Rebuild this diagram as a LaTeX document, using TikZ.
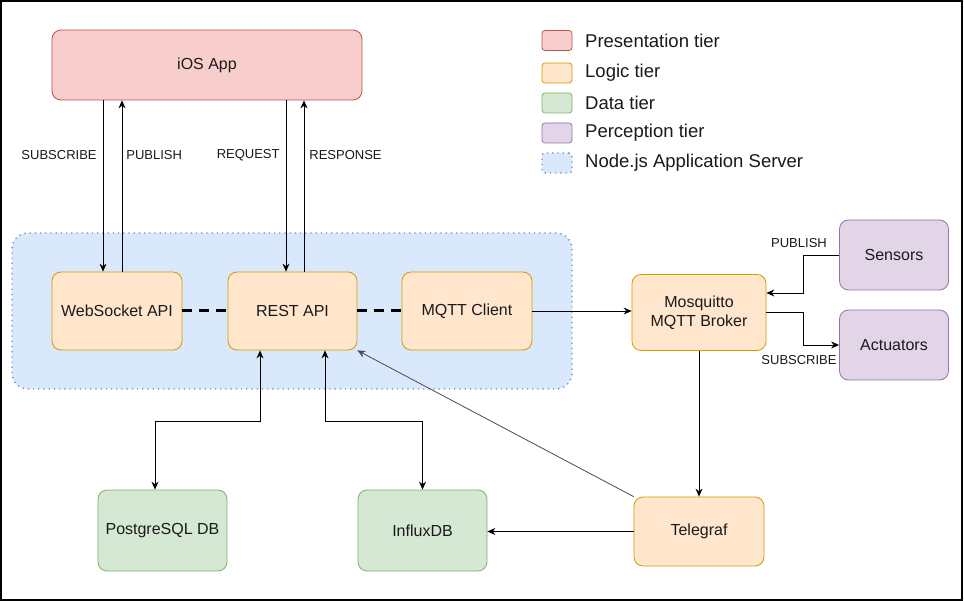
\documentclass[tikz,border=0pt]{standalone}
\usepackage{fontspec}
\setmainfont{Liberation Sans}
\usetikzlibrary{arrows.meta}
\definecolor{txt}{HTML}{1A1A1A}
\definecolor{presfill}{HTML}{F8CECC}
\definecolor{presline}{HTML}{B85450}
\definecolor{logfill}{HTML}{FFE6CC}
\definecolor{logline}{HTML}{D79B00}
\definecolor{datfill}{HTML}{D5E8D4}
\definecolor{datline}{HTML}{82B366}
\definecolor{perfill}{HTML}{E1D5E7}
\definecolor{perline}{HTML}{9673A6}
\definecolor{srvfill}{HTML}{DAE8FC}
\definecolor{srvline}{HTML}{6C8EBF}
\tikzstyle{tierbox}=[rectangle,rounded corners=9pt,line width=0.8pt,
                     align=center,inner sep=0pt,text=txt,
                     font=\fontsize{16}{19}\selectfont]
\tikzstyle{presbox}=[tierbox,draw=presline,fill=presfill]
\tikzstyle{logbox}=[tierbox,draw=logline,fill=logfill,
                    minimum width=130pt,minimum height=78pt]
\tikzstyle{datbox}=[tierbox,draw=datline,fill=datfill,
                    minimum width=129pt,minimum height=81pt]
\tikzstyle{perbox}=[tierbox,draw=perline,fill=perfill,
                    minimum width=109pt,minimum height=70pt]
\tikzstyle{srvbox}=[rectangle,rounded corners=16pt,draw=srvline,fill=srvfill,
                    line width=1.4pt,dash pattern=on 1.2pt off 4pt]
\tikzstyle{legbox}=[rectangle,rounded corners=3pt,line width=0.8pt,
                    minimum width=30pt,minimum height=20pt,inner sep=0pt]
\tikzstyle{legtext}=[anchor=west,inner sep=0pt,text=txt,
                     font=\fontsize{18.5}{22}\selectfont]
\tikzstyle{lbl}=[inner sep=0pt,text=txt,font=\fontsize{13}{15}\selectfont]
\tikzstyle{arr}=[-{Stealth[length=8pt,width=7pt]},line width=0.8pt]
\tikzstyle{biarr}=[{Stealth[length=8pt,width=7pt]}-{Stealth[length=8pt,width=7pt]},
                   line width=0.8pt]
\tikzstyle{dline}=[line width=3pt,dash pattern=on 10pt off 7pt]

\begin{document}
\begin{tikzpicture}[x=1pt,y=-1pt]
    \useasboundingbox (0,0) rectangle (964,601);
    \fill[white] (0,0) rectangle (964,601);
    \draw[line width=2pt] (1,1) rectangle (962,599.5);

    \node (server) at (292,311) [srvbox,minimum width=560pt,minimum height=156pt]{};

    \node (ios) at (207,65) [presbox,minimum width=310pt,minimum height=70pt]{iOS App};
    \node (ws) at (117,311) [logbox]{WebSocket API};
    \node (rest) at (292.5,311) [logbox,minimum width=129pt]{REST API};
    \node (mqttc) at (467,311) [logbox]{MQTT Client};
    \node (broker) at (699,312.5) [logbox,minimum width=134pt,minimum height=76pt]{Mosquitto\\MQTT Broker};
    \node (telegraf) at (699,531.5) [logbox,minimum height=69pt]{Telegraf};
    \node (pg) at (162.5,530.5) [datbox]{PostgreSQL DB};
    \node (influx) at (422.5,530.5) [datbox]{InfluxDB};
    \node (sensors) at (894,255) [perbox]{Sensors};
    \node (actuators) at (894,345) [perbox]{Actuators};

    \node (kpres) at (557,40.5) [legbox,draw=presline,fill=presfill]{};
    \node (klog) at (557,73) [legbox,draw=logline,fill=logfill]{};
    \node (kdat) at (557,103) [legbox,draw=datline,fill=datfill]{};
    \node (kper) at (557,133) [legbox,draw=perline,fill=perfill]{};
    \node (ksrv) at (557,163) [legbox,draw=srvline,fill=srvfill,
                               line width=1.4pt,dash pattern=on 1.2pt off 4pt]{};
    \node (tpres) at (585,40.5) [legtext]{Presentation tier};
    \node (tlog) at (585,73) [legtext]{Logic tier};
    \node (tdat) at (585,103) [legtext]{Data tier};
    \node (tper) at (585,133) [legtext]{Perception tier};
    \node (tsrv) at (585,163) [legtext]{Node.js Application Server};

    \draw[arr] ([xshift=-104pt]ios.south) -- node[lbl,pos=.32,left=6pt] (lsubws) {SUBSCRIBE} ([xshift=-14pt]ws.north);
    \draw[arr] ([xshift=5pt]ws.north) -- node[lbl,pos=.68,right=4pt] (lpubws) {PUBLISH} ([xshift=-85pt]ios.south);
    \draw[arr] ([xshift=79pt]ios.south) -- node[lbl,pos=.32,left=6pt] (lreq) {REQUEST} ([xshift=-6.5pt]rest.north);
    \draw[arr] ([xshift=11.5pt]rest.north) -- node[lbl,pos=.68,right=5pt] (lres) {RESPONSE} ([xshift=97pt]ios.south);

    \draw[dline] (ws) -- (rest) -- (mqttc);
    \draw[arr] (mqttc.east) -- (mqttc.east -| broker.west);

    \coordinate (pubj) at (803,293);
    \coordinate (subj) at (803,312.5);
    \draw[arr] (sensors.west) -| (pubj) -- (pubj -| broker.east);
    \draw[arr] (broker.east) -- (subj) |- (actuators.west);
    \node (lpubs) at (799,243) [lbl]{PUBLISH};
    \node (lsubs) at (799,360) [lbl]{SUBSCRIBE};

    \draw[arr] (broker) -- (telegraf);
    \draw[arr] (telegraf.west) -- (telegraf.west -| influx.east);
    \draw[arr,draw=black!70] (telegraf.north west) -- (rest.south east);

    \coordinate (pgj) at (155,421);
    \coordinate (ifj) at (422.5,421);
    \draw[biarr] ([xshift=-32.5pt]rest.south) |- (pgj) -- (pg.north -| pgj);
    \draw[biarr] ([xshift=32.5pt]rest.south) |- (ifj) -- (influx.north);
\end{tikzpicture}
\end{document}
